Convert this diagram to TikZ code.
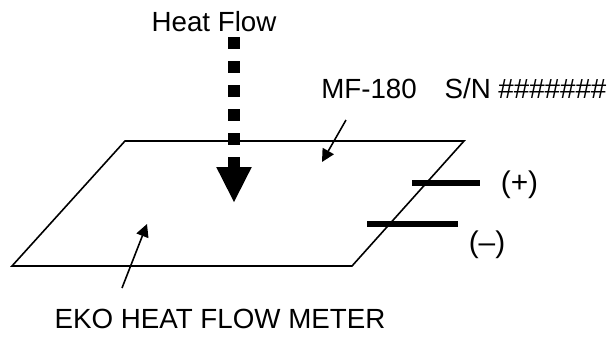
\documentclass[tikz,border=0pt]{standalone}
\usepackage{fontspec}
\setmainfont{Liberation Sans}
\usetikzlibrary{arrows.meta}
\tikzset{
  label/.style={font=\fontsize{20.8}{24}\selectfont,text=black,inner sep=0pt,anchor=base},
  pole/.style={label,font=\fontsize{22.4}{26}\selectfont},
  plate/.style={draw=black,line width=1.2pt,line join=miter},
  lead/.style={draw=black,line width=4.5pt},
  arrthin/.style={-{Triangle[length=9.5pt,width=9.5pt]},draw=black,line width=1.2pt},
  arrflow/.style={-{Triangle[length=27pt,width=24.5pt]},draw=black,line width=9pt,dash pattern=on 9pt off 9pt}
}
\begin{document}
\begin{tikzpicture}[x=0.75pt,y=-0.75pt]
\path[use as bounding box] (0,0) rectangle (611,336);
\coordinate (tl) at (125,141);
\coordinate (tr) at (464,141);
\coordinate (br) at (352,266);
\coordinate (bl) at (12,266);
\draw[plate] (tl)--(tr)--(br)--(bl)--cycle;
\node[label] (heat) at (214,31) {Heat Flow};
\node[label,anchor=base west] (model) at (321,98) {MF-180\hspace{1em}S/N \#\#\#\#\#\#\#};
\node[label] (meter) at (220,328) {EKO HEAT FLOW METER};
\node[pole] (plus) at (519.5,192) {(+)};
\node[pole] (minus) at (487,252) {(–)};
\coordinate (flowtop) at (234,37);
\coordinate (flowtip) at (234,203);
\draw[arrflow] (flowtop)--(flowtip);
\coordinate (modelfrom) at (346,120);
\coordinate (modelto) at (322,162);
\draw[arrthin] (modelfrom)--(modelto);
\coordinate (meterfrom) at (122,288);
\coordinate (meterto) at (147,224);
\draw[arrthin] (meterfrom)--(meterto);
\coordinate (plusa) at (412,183);
\coordinate (plusb) at (480,183);
\draw[lead] (plusa)--(plusb);
\coordinate (minusa) at (367,224);
\coordinate (minusb) at (458,224);
\draw[lead] (minusa)--(minusb);
\end{tikzpicture}
\end{document}
